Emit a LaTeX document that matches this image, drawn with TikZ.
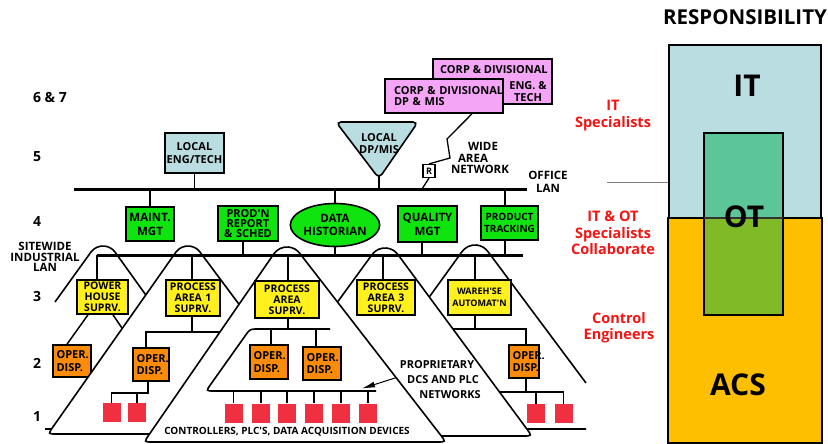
\documentclass[tikz,border=0pt]{standalone}
\usepackage{fontspec}
\setmainfont{Open Sans}
\usetikzlibrary{shapes.geometric,arrows.meta}
\definecolor{lblue}{RGB}{185,221,225}
\definecolor{grn}{RGB}{15,228,15}
\definecolor{yel}{RGB}{255,240,30}
\definecolor{org}{RGB}{250,140,10}
\definecolor{pnk}{RGB}{245,165,245}
\definecolor{sqred}{RGB}{240,48,64}
\definecolor{acs}{RGB}{253,191,0}
\definecolor{otup}{RGB}{92,198,153}
\definecolor{otlo}{RGB}{128,186,39}
\definecolor{redtxt}{RGB}{245,20,20}
\begin{document}
\begin{tikzpicture}[x=1pt,y=-1pt,
  every node/.style={font=\bfseries},
  conn/.style={line width=1.5pt},
  lan/.style={line width=3pt},
  tent/.style={line width=1.6pt},
  bx/.style n args={3}{draw, line width=1.6pt, fill=#1, minimum width=#2, text width=#2, minimum height=#3, inner sep=0pt, align=center, font=\bfseries\fontsize{10.5}{11}\selectfont},
  oper/.style n args={3}{draw, line width=1.6pt, fill=org, minimum width=#1, text width=#2, minimum height=#3, inner xsep=3.5pt, inner ysep=0pt, align=left, font=\bfseries\fontsize{11}{12.5}\selectfont},
  sq/.style={fill=sqred, minimum width=18pt, minimum height=19pt, inner sep=0pt},
  lvl/.style={font=\bfseries\fontsize{14}{14}\selectfont},
  lbl/.style={font=\bfseries\fontsize{11.5}{12}\selectfont},
  redlbl/.style={text=redtxt, align=center, font=\bfseries\fontsize{14.5}{16.5}\selectfont},
  big/.style={font=\bfseries\fontsize{30}{30}\selectfont}
]
\useasboundingbox (0,0) rectangle (828,444);
\fill[white] (0,0) rectangle (828,444);

% ---------- level labels ----------
\node[lvl] (l67) at (50,97) {6 \& 7};
\node[lvl] (l5) at (37,157) {5};
\node[lvl] (l4) at (37,222) {4};
\node[lvl] (l3) at (37,296) {3};
\node[lvl] (l2) at (37,363) {2};
\node[lvl] (l1) at (37,416) {1};
\node[align=center, font=\bfseries\fontsize{11.5}{10.7}\selectfont] (swlan) at (45,257) {SITEWIDE\\INDUSTRIAL\\LAN};

\coordinate (olanL) at (74,189); \coordinate (olanR) at (527,189);
\coordinate (ilanL) at (97,255); \coordinate (ilanR) at (523,255);

% ---------- tent A (power house) ----------
\draw[tent] (55,302) -- (90.7,252.4) arc[start angle=215, end angle=325, radius=15] -- (242,429) -- (45,429);
\node[bx={yel}{51pt}{34pt}] (ph) at (102.5,297) {POWER\\HOUSE\\SUPRV.};
\node[oper={38pt}{31pt}{32pt}] (phop) at (72,361) {OPER.\\DISP.};
\coordinate (phA) at ([xshift=-14.5pt]ph.south);
\coordinate (phopT) at ([xshift=-5pt]phop.north);
\draw[conn] (phA) -- (phopT);
\coordinate (phB) at ([xshift=10.5pt]ph.south);
\coordinate (phBend) at (128,337);
\draw[conn] (phB) -- (phBend);

% ---------- tent B (process area 1) ----------
\filldraw[tent, fill=white] (200,434) -- (56,434) .. controls (48,434) .. (53.2,426.6) -- (175.7,252.4) arc[start angle=215, end angle=325, radius=15] -- (336,434) -- cycle;
\node[bx={yel}{54pt}{36pt}] (pa1) at (193,298) {PROCESS\\AREA 1\\SUPRV.};
\node[oper={36pt}{29pt}{33pt}] (pa1op) at (151,364.5) {OPER.\\DISP.};
\coordinate (pa1S) at ([xshift=-1pt]pa1.south);
\coordinate (pa1bus) at (232,332);
\coordinate (pa1opT) at ([xshift=-5pt]pa1op.north);
\draw[conn] (pa1S) -- (pa1S |- pa1bus);
\draw[conn] (pa1opT) |- (pa1bus);
\node[sq] (b1) at (111.5,412.5) {};
\node[sq] (b2) at (137,412.5) {};
\coordinate (pa1opB) at ([xshift=-3pt]pa1op.south);
\coordinate (bbus) at (148,393);
\draw[conn] (pa1opB) -- (bbus) -| (b1.north);
\draw[conn] (b2.north) -- (b2.north |- bbus);

% ---------- tent E (warehouse) ----------
\draw[tent] (586,429) -- (334,429) -- (461.9,251.8) arc[start angle=215, end angle=325, radius=16] -- (586,383);
\node[bx={yel}{63pt}{35pt}, font=\bfseries\fontsize{9}{12}\selectfont] (wh) at (479.5,297.5) {WAREH\textquotesingle SE\\AUTOMAT\textquotesingle N};
\node[oper={30pt}{23pt}{33pt}] (whop) at (524,361.5) {OPER.\\DISP.};
\coordinate (whS) at ([xshift=-4.5pt]wh.south);
\coordinate (ebus1) at (440,329);
\coordinate (whopT) at ([xshift=2pt]whop.north);
\draw[conn] (whS) -- (whS |- ebus1);
\draw[conn] (ebus1) -| (whopT);
\node[sq] (e1) at (536,413.5) {};
\node[sq] (e2) at (563.5,413.5) {};
\coordinate (whopB) at ([xshift=2pt]whop.south);
\coordinate (ebus2) at (495,392);
\draw[conn] (whopB) -- (whopB |- ebus2);
\draw[conn] (ebus2) -| (e2.north);
\draw[conn] (e1.north) -- (e1.north |- ebus2);

% ---------- tent D (process area 3) ----------
\filldraw[tent, fill=white] (240,436) -- (371.9,254.8) arc[start angle=215, end angle=325, radius=16] -- (526.65,428.76) .. controls (532,436) .. (523,436) -- cycle;
\node[bx={yel}{58pt}{35pt}] (pa3) at (386,297.5) {PROCESS\\AREA 3\\SUPRV.};

% ---------- tent C (process area) ----------
\filldraw[tent, fill=white] (152,442) .. controls (144,442) .. (149.1,434.6) -- (273.9,253.8) arc[start angle=215, end angle=325, radius=16] -- (440.5,434.9) .. controls (446,442) .. (437,442) -- cycle;
\node[bx={yel}{64pt}{37pt}] (pa) at (287,299.5) {PROCESS\\AREA\\SUPRV.};
\coordinate (inTR) at (330,329);
\coordinate (inBR) at (376,391);
\draw[tent] (inTR) -- (258,329) .. controls (250,329) .. (245.4,335.5) -- (210.6,384.5) .. controls (206,391) .. (214,391) -- (inBR);
\coordinate (paS) at ([xshift=1pt]pa.south);
\draw[conn] (paS) -- (paS |- inTR);
\node[oper={38pt}{31pt}{34pt}] (paop1) at (269,362) {OPER.\\DISP.};
\node[oper={38pt}{31pt}{33pt}] (paop2) at (322,363.5) {OPER.\\DISP.};
\coordinate (po1T) at ([xshift=2pt]paop1.north);
\coordinate (po2T) at ([xshift=-6pt]paop2.north);
\draw[conn] (po1T) -- (po1T |- inTR);
\draw[conn] (po2T) -- (po2T |- inTR);
\foreach \i/\x in {1/233.5,2/261,3/287,4/314,5/341,6/368}{
  \node[sq] (c\i) at (\x,413) {};
  \draw[conn] (c\i.north) -- (c\i.north |- inBR);
}
\node[font=\bfseries\fontsize{10}{10}\selectfont] (ctl) at (287,432) {CONTROLLERS, PLC\textquotesingle S, DATA ACQUISITION DEVICES};
\node[font=\bfseries\fontsize{11}{11}\selectfont] (prop1) at (437,365) {PROPRIETARY};
\node[font=\bfseries\fontsize{11}{11}\selectfont] (prop2) at (443,379.5) {DCS AND PLC};
\node[font=\bfseries\fontsize{11}{11}\selectfont] (prop3) at (450,394.5) {NETWORKS};
\coordinate (arrTip) at (362,388.5);
\draw[line width=1pt, -{Latex[length=13pt,width=6pt]}] ([xshift=-7pt,yshift=2pt]prop2.west) -- (arrTip);

% ---------- level 5 / 6&7 ----------
\node[bx={lblue}{59pt}{40pt}, font=\bfseries\fontsize{11}{12.5}\selectfont] (engtech) at (194.5,153) {LOCAL\\ENG/TECH};
\filldraw[fill=lblue, line width=1.6pt, rounded corners=5pt] (336,122) -- (418,122) -- (379,178.5) -- cycle;
\node[align=center, font=\bfseries\fontsize{11}{12.5}\selectfont] (dpmis) at (379,143.5) {LOCAL\\DP/MIS};
\coordinate (dpapex) at (379,176);

\node[bx={pnk}{119pt}{45pt}] (corpeng) at (492.5,81.5) {};
\node[anchor=west, font=\bfseries\fontsize{11}{11}\selectfont, inner sep=0pt] (corpengt1) at (440,70) {CORP \& DIVISIONAL};
\node[align=center, font=\bfseries\fontsize{11}{12}\selectfont] (corpengt2) at (528,92) {ENG. \&\\TECH};
\node[bx={pnk}{118pt}{34pt}, align=left, text width=100pt, inner xsep=9pt, font=\bfseries\fontsize{11}{11}\selectfont] (corpdp) at (444,96) {\mbox{CORP \& DIVISIONAL}\\DP \& MIS};

\node[draw, line width=1.2pt, fill=white, minimum width=12pt, minimum height=13pt, inner sep=0pt, font=\bfseries\fontsize{9}{9}\selectfont] (rbox) at (429,171) {R};
\draw[conn, line width=1.3pt] ([xshift=28pt]corpdp.south) -- (447,139) -- (450,158) -- (rbox.north);
\coordinate (wanend) at (422,189);
\draw[conn, line width=1.3pt] (rbox.south) -- (wanend);
\node[lbl] (wide) at (483,146) {WIDE};
\node[lbl] (area) at (473,158) {AREA};
\node[lbl] (netw) at (480,169.5) {NETWORK};
\node[align=center, font=\bfseries\fontsize{11.5}{13}\selectfont] (olanlbl) at (548,181.5) {OFFICE\\LAN};

% ---------- level 4 ----------
\node[bx={grn}{48pt}{34pt}, font=\bfseries\fontsize{11.5}{14}\selectfont] (maint) at (150,224) {MAINT.\\MGT};
\node[bx={grn}{60pt}{35pt}, font=\bfseries\fontsize{11}{10.3}\selectfont] (prodn) at (248,223.5) {PROD\textquotesingle N\\REPORT\\\& SCHED};
\node[ellipse, draw, line width=1.6pt, fill=grn, minimum width=73pt, minimum height=43pt, inner sep=0pt, align=center, font=\bfseries\fontsize{11.5}{13.5}\selectfont] (hist) at (335,225) {DATA\\HISTORIAN};
\node[bx={grn}{59pt}{36pt}, font=\bfseries\fontsize{11.5}{14}\selectfont] (qual) at (427.5,224) {QUALITY\\MGT};
\node[bx={grn}{57pt}{34pt}, font=\bfseries\fontsize{10}{12}\selectfont] (track) at (509.5,223) {PRODUCT\\TRACKING};

% ---------- LANs and connectors ----------
\draw[lan] (olanL) -- (olanR);
\draw[lan] (ilanL) -- (ilanR);
\draw[conn] (engtech) -- (engtech |- olanL);
\draw[conn] (dpapex) -- (dpapex |- olanL);
\draw[conn] (maint) -- (maint |- olanL);
\draw[conn] (hist) -- (hist |- olanL);
\draw[conn] (hist) -- (hist |- ilanL);
\coordinate (trkT) at ([xshift=-4.5pt]track.north);
\coordinate (trkB) at ([xshift=-4.5pt]track.south);
\draw[conn] (trkT) -- (trkT |- olanL);
\draw[conn] (trkB) -- (trkB |- ilanL);
\coordinate (prodnB) at ([xshift=-5pt]prodn.south);
\draw[conn] (prodnB) -- (prodnB |- ilanL);
\coordinate (qualB) at ([xshift=-5.5pt]qual.south);
\draw[conn] (qualB) -- (qualB |- ilanL);
\coordinate (phT) at ([xshift=-5.5pt]ph.north);
\draw[conn] (phT) -- (phT |- ilanL);
\coordinate (pa1T) at ([xshift=-1pt]pa1.north);
\draw[conn] (pa1T) -- (pa1T |- ilanL);
\coordinate (paT) at ([xshift=1pt]pa.north);
\draw[conn] (paT) -- (paT |- ilanL);
\coordinate (pa3T) at ([xshift=-3pt]pa3.north);
\draw[conn] (pa3T) -- (pa3T |- ilanL);
\coordinate (whT) at ([xshift=-4.5pt]wh.north);
\draw[conn] (whT) -- (whT |- ilanL);

% ---------- responsibility panel ----------
\node[font=\bfseries\fontsize{20.5}{20}\selectfont] (resp) at (745,17) {RESPONSIBILITY};
\draw[gray, line width=0.8pt] (607,182) -- (669,182);
\filldraw[fill=lblue, line width=2.5pt] (669,45) rectangle (821,218);
\filldraw[fill=acs, line width=2.5pt] (668,218) rectangle (822,443);
\fill[otup] (704,133) rectangle (783,218);
\fill[otlo] (704,218) rectangle (783,315);
\draw[line width=2.5pt] (704,133) rectangle (783,315);
\draw[line width=2pt, black!80] (704,218) -- (783,218);
\node[big] (it) at (747,86) {IT};
\node[big] (ot) at (744,217) {OT};
\node[big] (acst) at (738,385) {ACS};
\node[redlbl] (itspec) at (613,115.5) {IT\\Specialists};
\node[redlbl] (collab) at (613,233) {IT \& OT\\Specialists\\Collaborate};
\node[redlbl] (ctrl) at (619,327.5) {Control\\Engineers};
\end{tikzpicture}
\end{document}
